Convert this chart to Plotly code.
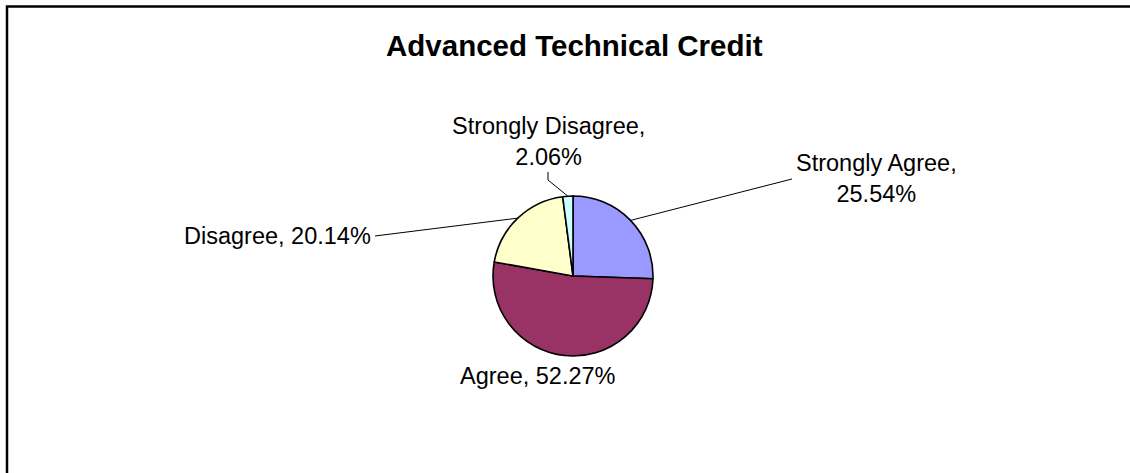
import math
import plotly.graph_objects as go

# Survey responses for "Advanced Technical Credit" (percent of respondents)
categories = ["Strongly Agree", "Agree", "Disagree", "Strongly Disagree"]
percents = [25.54, 52.27, 20.14, 2.06]
colors = ["#9999FF", "#993366", "#FFFFCC", "#CCFFFF"]

W, H = 1130, 473
FONT = "Liberation Sans, Arial, sans-serif"

# Pie geometry in pixels
CX, CY, R = 573, 276, 80


def px(x):
    return x / W


def py(y):
    return 1 - y / H


fig = go.Figure(
    go.Pie(
        labels=categories,
        values=percents,
        sort=False,
        direction="clockwise",
        rotation=0,
        marker=dict(colors=colors, line=dict(color="#000000", width=1.6)),
        textinfo="none",
        hoverinfo="label+percent",
        showlegend=False,
        domain=dict(x=[px(CX - R), px(CX + R)], y=[py(CY + R), py(CY - R)]),
    )
)

# Label placement: (text anchor x, y, xanchor, wrap after the comma, leader-line elbow points)
label_layout = {
    "Strongly Agree": dict(x=876, y=178, xanchor="center", wrap=True, leader=[(792, 179)]),
    "Agree": dict(x=538, y=376, xanchor="center", wrap=False, leader=None),
    "Disagree": dict(x=373, y=236, xanchor="right", wrap=False, leader=[(375, 236)]),
    "Strongly Disagree": dict(x=548, y=141, xanchor="center", wrap=True, leader=[(548, 172), (548, 180)]),
}

total = sum(percents)
shapes = []
annotations = []
cum = 0.0
for cat, val in zip(categories, percents):
    mid = (cum + val / 2) / total * 2 * math.pi
    cum += val
    cfg = label_layout[cat]
    sep = ",<br>" if cfg["wrap"] else ", "
    text = f"{cat}{sep}{val:.2f}%"
    annotations.append(
        dict(
            text=text,
            x=px(cfg["x"]), y=py(cfg["y"]),
            xref="paper", yref="paper",
            xanchor=cfg["xanchor"], yanchor="middle",
            align="center",
            showarrow=False,
            font=dict(family=FONT, size=23.5, color="#000000"),
        )
    )
    if cfg["leader"]:
        # leader line runs from the slice's mid-angle on the rim out to the label
        sx = CX + R * math.sin(mid)
        sy = CY - R * math.cos(mid)
        pts = [(sx, sy)] + list(reversed(cfg["leader"]))
        path = "M " + " L ".join(f"{px(a):.5f},{py(b):.5f}" for a, b in pts)
        shapes.append(
            dict(type="path", path=path, xref="paper", yref="paper",
                 line=dict(color="#000000", width=1))
        )

# Chart title
annotations.append(
    dict(
        text="<b>Advanced Technical Credit</b>",
        x=px(574), y=py(46), xref="paper", yref="paper",
        xanchor="center", yanchor="middle", showarrow=False,
        font=dict(family=FONT, size=29.5, color="#000000"),
    )
)

# Chart frame (runs past the right and bottom edges)
shapes.append(
    dict(type="rect", xref="paper", yref="paper",
         x0=px(7), y0=py(6.5), x1=px(W + 20), y1=py(H + 20),
         line=dict(color="#000000", width=2.5), fillcolor="rgba(0,0,0,0)")
)

fig.update_layout(
    width=W, height=H,
    margin=dict(l=0, r=0, t=0, b=0),
    paper_bgcolor="#FFFFFF",
    plot_bgcolor="#FFFFFF",
    shapes=shapes,
    annotations=annotations,
)

fig.write_html("out.html")
